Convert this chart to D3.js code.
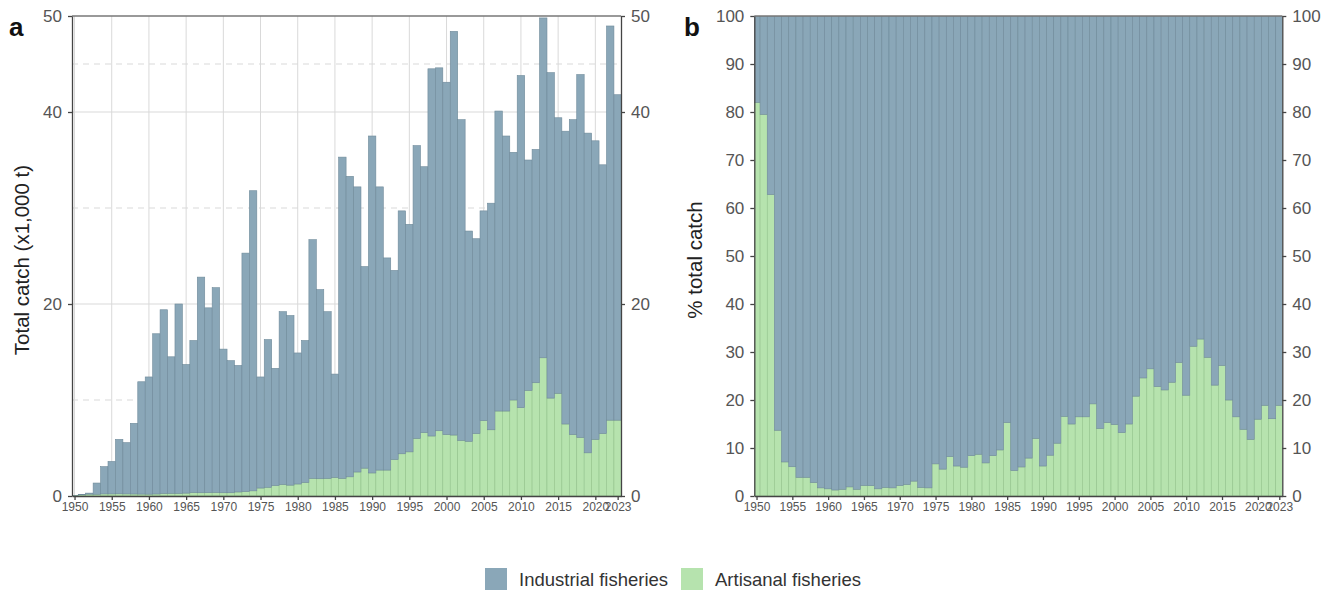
<!DOCTYPE html>
<html>
<head>
<meta charset="utf-8">
<script src="https://cdn.jsdelivr.net/npm/d3@7"></script>
<style>
  body { margin: 0; background: #fff; }
  svg { font-family: "Liberation Sans", Arial, sans-serif; }
</style>
</head>
<body>
<svg id="chart" width="1335" height="592"></svg>
<script>
const years = d3.range(1950, 2024);

// panel a, catch in 1,000 t
const industrialCatch = [
  0.01, 0.03, 0.11, 1.17, 2.84, 3.38, 5.67, 5.34, 7.36, 11.7,
  12.21, 16.69, 19.13, 14.22, 19.72, 13.4, 15.85, 22.46, 19.25, 21.33,
  14.96, 13.76, 13.18, 24.84, 31.26, 11.57, 15.39, 12.21, 18.0, 17.67,
  13.65, 14.79, 24.86, 19.7, 17.36, 10.76, 33.46, 31.3, 29.7, 21.0,
  35.1, 29.5, 22.1, 19.7, 25.3, 23.7, 30.5, 27.7, 38.25, 37.8,
  36.7, 42.05, 33.4, 21.9, 20.3, 21.85, 23.6, 31.25, 28.65, 25.8,
  34.6, 24.0, 24.3, 35.4, 33.9, 28.7, 30.5, 32.8, 37.8, 33.3,
  31.1, 28.0, 41.06, 33.9
];
const artisanalCatch = [
  0.04, 0.12, 0.19, 0.18, 0.22, 0.22, 0.23, 0.22, 0.21, 0.2,
  0.19, 0.21, 0.27, 0.28, 0.28, 0.3, 0.35, 0.34, 0.35, 0.37,
  0.34, 0.34, 0.42, 0.46, 0.54, 0.83, 0.91, 1.09, 1.2, 1.13,
  1.25, 1.41, 1.84, 1.8, 1.84, 1.94, 1.84, 2.0, 2.5, 2.9,
  2.4, 2.7, 2.7, 3.8, 4.4, 4.6, 6.0, 6.6, 6.25, 6.8,
  6.4, 6.35, 5.8, 5.7, 6.5, 7.85, 6.9, 8.85, 8.85, 10.0,
  9.2, 11.0, 11.8, 14.4, 10.2, 10.7, 7.5, 6.4, 6.1, 4.5,
  5.9, 6.5, 7.9, 7.9
];

// panel b, % of total catch
const industrialPct = [
  18.0, 20.5, 37.2, 86.3, 92.9, 93.9, 96.1, 96.1, 97.2, 98.3,
  98.5, 98.75, 98.6, 98.1, 98.6, 97.8, 97.85, 98.5, 98.2, 98.3,
  97.8, 97.6, 96.9, 98.2, 98.3, 93.3, 94.4, 91.8, 93.75, 94.0,
  91.6, 91.3, 93.1, 91.6, 90.4, 84.7, 94.7, 93.95, 92.1, 88.0,
  93.75, 91.5, 89.0, 83.4, 85.0, 83.5, 83.5, 80.8, 85.9, 84.7,
  85.1, 86.8, 85.0, 79.2, 75.4, 73.5, 77.2, 77.9, 76.3, 72.2,
  79.0, 68.8, 67.3, 71.1, 76.9, 72.8, 80.0, 83.5, 86.1, 88.2,
  84.0, 81.1, 83.9, 81.1
];
const artisanalPct = [
  82.0, 79.5, 62.8, 13.7, 7.1, 6.1, 3.9, 3.9, 2.8, 1.7,
  1.5, 1.25, 1.4, 1.9, 1.4, 2.2, 2.15, 1.5, 1.8, 1.7,
  2.2, 2.4, 3.1, 1.8, 1.7, 6.7, 5.6, 8.2, 6.25, 6.0,
  8.4, 8.7, 6.9, 8.4, 9.6, 15.3, 5.3, 6.05, 7.9, 12.0,
  6.25, 8.5, 11.0, 16.6, 15.0, 16.5, 16.5, 19.2, 14.1, 15.3,
  14.9, 13.2, 15.0, 20.8, 24.6, 26.5, 22.8, 22.1, 23.7, 27.8,
  21.0, 31.2, 32.7, 28.9, 23.1, 27.2, 20.0, 16.5, 13.9, 11.8,
  16.0, 18.9, 16.1, 18.9
];

const xTicks = [1950, 1955, 1960, 1965, 1970, 1975, 1980, 1985, 1990, 1995,
  2000, 2005, 2010, 2015, 2020, 2023];
const yTicksA = [0, 20, 40, 50];
const yMinorA = [10, 30, 45];
const yTicksB = [0, 10, 20, 30, 40, 50, 60, 70, 80, 90, 100];
const seriesNames = ['Industrial fisheries', 'Artisanal fisheries'];

const fills = { industrial: '#8aa7b8', artisanal: '#b6e3ae' };
const strokes = { industrial: '#6f8a9a', artisanal: '#93c38c' };
const axisColor = '#444';
const labelColor = '#555';

const svg = d3.select('#chart');

function drawPanel(opts) {
  const { left, right, top, bottom, xDomain, yMax, ind, art, yTicks, minor, grid,
    tag, tagX, title, titleX, id } = opts;
  const x = d3.scaleLinear().domain(xDomain).range([left, right]);
  const y = d3.scaleLinear().domain([0, yMax]).range([bottom, top]);

  const g = svg.append('g');

  g.append('clipPath').attr('id', id)
    .append('rect')
    .attr('x', left).attr('y', top)
    .attr('width', right - left).attr('height', bottom - top);

  if (grid) {
    g.selectAll('.minor').data(minor).enter().append('line')
      .attr('x1', left).attr('x2', right)
      .attr('y1', d => y(d)).attr('y2', d => y(d))
      .attr('stroke', '#d9d9d9').attr('stroke-width', 1)
      .attr('stroke-dasharray', '6,5');
    g.selectAll('.hgrid').data(yTicks.filter(d => d > 0 && d < yMax)).enter().append('line')
      .attr('x1', left).attr('x2', right)
      .attr('y1', d => y(d)).attr('y2', d => y(d))
      .attr('stroke', '#d9d9d9').attr('stroke-width', 1);
    g.selectAll('.vgrid').data(xTicks.filter(d => d !== 2023)).enter().append('line')
      .attr('x1', d => x(d)).attr('x2', d => x(d))
      .attr('y1', top).attr('y2', bottom)
      .attr('stroke', '#d9d9d9').attr('stroke-width', 1);
  }

  const rows = years.map((yr, i) => ({ year: yr, industrial: ind[i], artisanal: art[i] }));
  const stacked = d3.stack().keys(['artisanal', 'industrial'])(rows);

  const bars = g.append('g').attr('clip-path', `url(#${id})`);
  stacked.forEach(layer => {
    bars.append('g').selectAll('rect').data(layer).enter().append('rect')
      .attr('x', d => x(d.data.year - 0.5))
      .attr('width', d => x(d.data.year + 0.5) - x(d.data.year - 0.5))
      .attr('y', d => y(d[1]))
      .attr('height', d => y(d[0]) - y(d[1]))
      .attr('fill', fills[layer.key])
      .attr('stroke', strokes[layer.key])
      .attr('stroke-width', 0.6);
  });

  // top border of the panel
  g.append('line').attr('x1', left).attr('x2', right).attr('y1', top).attr('y2', top)
    .attr('stroke', '#777').attr('stroke-width', 1.3);

  const styleAxis = (sel, size) => {
    sel.select('.domain').attr('stroke', axisColor).attr('stroke-width', 1.3);
    sel.selectAll('.tick line').attr('stroke', axisColor).attr('stroke-width', 1.3);
    sel.selectAll('.tick text').attr('fill', labelColor).style('font-size', size + 'px');
  };

  g.append('g').attr('transform', `translate(${left},0)`)
    .call(d3.axisLeft(y).tickValues(yTicks).tickSize(4).tickSizeOuter(0).tickPadding(6))
    .call(s => styleAxis(s, 17));
  g.append('g').attr('transform', `translate(${right},0)`)
    .call(d3.axisRight(y).tickValues(yTicks).tickSize(4).tickSizeOuter(0).tickPadding(6))
    .call(s => styleAxis(s, 17));
  g.append('g').attr('transform', `translate(0,${bottom})`)
    .call(d3.axisBottom(x).tickValues(xTicks).tickFormat(d3.format('d')).tickSize(4).tickSizeOuter(0).tickPadding(2))
    .call(s => styleAxis(s, 12));

  g.append('text')
    .attr('transform', `translate(${titleX},${(top + bottom) / 2 + 4}) rotate(-90)`)
    .attr('text-anchor', 'middle')
    .attr('fill', '#222')
    .style('font-size', '20.5px')
    .text(title);

  g.append('text')
    .attr('x', tagX).attr('y', 36)
    .attr('font-weight', 'bold')
    .attr('fill', '#111')
    .style('font-size', '26px')
    .text(tag);
}

drawPanel({
  id: 'clipA', left: 72, right: 621, top: 16, bottom: 496,
  xDomain: [1949.66, 2023.45], yMax: 50,
  ind: industrialCatch, art: artisanalCatch,
  yTicks: yTicksA, minor: yMinorA, grid: true,
  tag: 'a', tagX: 9, title: 'Total catch (x1,000 t)', titleX: 29
});

drawPanel({
  id: 'clipB', left: 754.3, right: 1282.3, top: 16, bottom: 496,
  xDomain: [1949.69, 2023.42], yMax: 100,
  ind: industrialPct, art: artisanalPct,
  yTicks: yTicksB, minor: [], grid: false,
  tag: 'b', tagX: 684, title: '% total catch', titleX: 702
});

// legend
const legend = svg.append('g').attr('transform', 'translate(485,568)');
const keys = ['industrial', 'artisanal'];
const legendX = [0, 196];
keys.forEach((k, i) => {
  const item = legend.append('g').attr('transform', `translate(${legendX[i]},0)`);
  item.append('rect').attr('width', 22).attr('height', 22)
    .attr('fill', fills[k]);
  item.append('text').attr('x', 34).attr('y', 17.5)
    .attr('fill', '#333').style('font-size', '18.5px')
    .text(seriesNames[i]);
});
</script>
</body>
</html>
